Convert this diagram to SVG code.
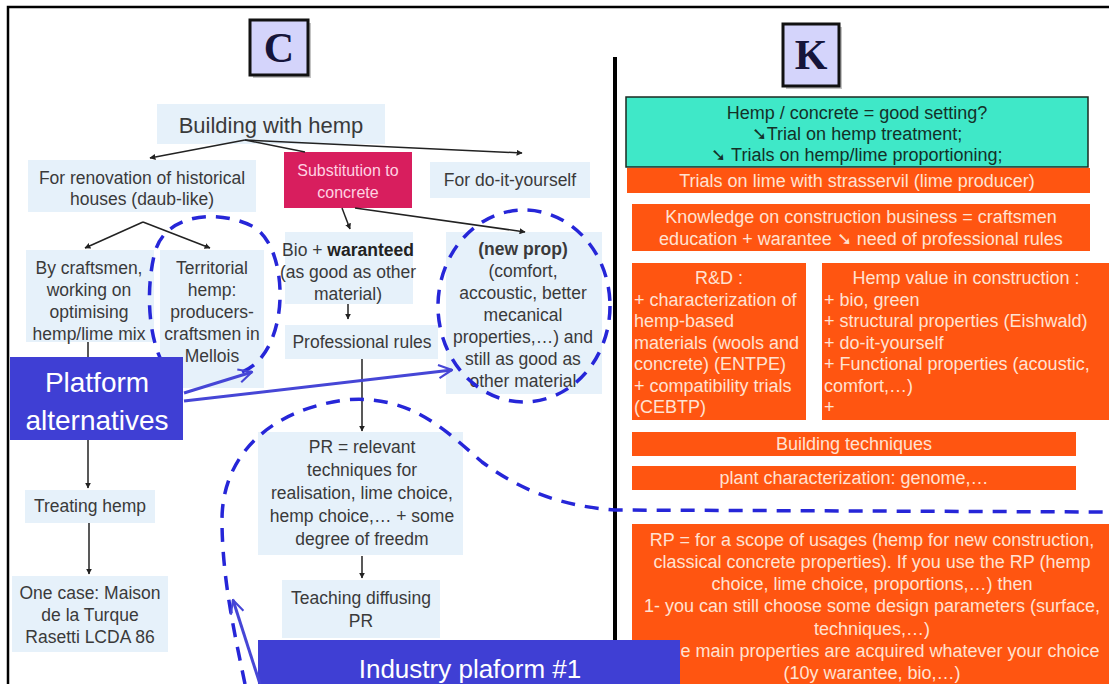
<svg xmlns="http://www.w3.org/2000/svg" width="1109" height="684" viewBox="0 0 1109 684">
<style>
.lb{fill:#e6f1fa}
.t{font-family:"Liberation Sans",Arial,sans-serif;font-size:17.5px;fill:#3a3a3a;text-anchor:middle}
.o{fill:#ff5511}
.ot{font-family:"Liberation Sans",Arial,sans-serif;font-size:18px;fill:#ffe2d2;text-anchor:middle}
.ol{text-anchor:start}
.bl{fill:#3f3fd4}
.bt{font-family:"Liberation Sans",Arial,sans-serif;font-size:28px;fill:#ffffff;text-anchor:middle}
.ar{stroke:#222;stroke-width:1.5;fill:none;marker-end:url(#ah)}
.ln{stroke:#222;stroke-width:1.5;fill:none}
.ds{stroke:#2626d8;stroke-width:3.5;fill:none;stroke-dasharray:14 10}
.ba{stroke:#4646d6;stroke-width:3;fill:none;marker-end:url(#oh)}
.lt{font-family:"Liberation Serif","Times New Roman",serif;font-weight:bold;font-size:42px;fill:#15153a;text-anchor:middle}
</style>
<defs>
<marker id="ah" viewBox="0 0 10 10" refX="9" refY="5" markerWidth="6" markerHeight="6" orient="auto" markerUnits="userSpaceOnUse">
<path d="M0,0 L10,5 L0,10 z" fill="#222"/>
</marker>
<marker id="oh" viewBox="0 0 12 12" refX="11" refY="6" markerWidth="16" markerHeight="16" orient="auto" markerUnits="userSpaceOnUse">
<path d="M1,1 L11,6 L1,11" fill="none" stroke="#4646d6" stroke-width="1.6"/>
</marker>
</defs>
<rect x="0" y="0" width="1109" height="684" fill="#ffffff"/>
<path d="M8,684 L8,7 L1109,7" fill="none" stroke="#000" stroke-width="2.5"/>

<g id="C-label">
<rect x="253" y="23" width="58" height="55" fill="#888" opacity="0.5"/>
<rect x="250" y="20" width="58" height="55" fill="#d4d4fb" stroke="#111" stroke-width="3"/>
<text class="lt" x="279" y="62">C</text>
</g>
<g id="K-label">
<rect x="786" y="27" width="56" height="62" fill="#888" opacity="0.5"/>
<rect x="783" y="24" width="56" height="62" fill="#d4d4fb" stroke="#111" stroke-width="3"/>
<text class="lt" x="811" y="69">K</text>
</g>
<line x1="615" y1="57" x2="615" y2="684" stroke="#000" stroke-width="4"/>

<g id="building">
<rect class="lb" x="157" y="104" width="228" height="40"/>
<text class="t" x="271" y="133" style="font-size:22px">Building with hemp</text>
</g>
<g id="renovation">
<rect class="lb" x="28" y="160" width="228" height="52"/>
<text class="t" x="142" y="184">For renovation of historical</text>
<text class="t" x="142" y="205">houses (daub-like)</text>
</g>
<g id="substitution">
<rect x="284" y="152" width="128" height="56" fill="#d81e5e"/>
<text class="t" x="348" y="176" style="fill:#ffd2e2;font-size:16px">Substitution to</text>
<text class="t" x="348" y="198" style="fill:#ffd2e2;font-size:16px">concrete</text>
</g>
<g id="diy">
<rect class="lb" x="430" y="162" width="160" height="36"/>
<text class="t" x="510" y="186">For do-it-yourself</text>
</g>
<g id="craftsmen">
<rect class="lb" x="26" y="250" width="128" height="92"/>
<text class="t" x="89" y="274">By craftsmen,</text>
<text class="t" x="89" y="296">working on</text>
<text class="t" x="89" y="318">optimising</text>
<text class="t" x="89" y="340">hemp/lime mix</text>
</g>
<g id="territorial">
<rect class="lb" x="160" y="250" width="104" height="138"/>
<text class="t" x="212" y="274">Territorial</text>
<text class="t" x="212" y="296">hemp:</text>
<text class="t" x="212" y="318">producers-</text>
<text class="t" x="212" y="340">craftsmen in</text>
<text class="t" x="212" y="362">Mellois</text>
</g>
<g id="bio">
<rect class="lb" x="285" y="232" width="128" height="72"/>
<text class="t" x="348" y="256">Bio + <tspan font-weight="bold" fill="#222">waranteed</tspan></text>
<text class="t" x="348" y="278">(as good as other</text>
<text class="t" x="348" y="300">material)</text>
</g>
<g id="professional">
<rect class="lb" x="285" y="325" width="153" height="34"/>
<text class="t" x="362" y="348">Professional rules</text>
</g>
<g id="newprop">
<rect class="lb" x="446" y="232" width="156" height="162"/>
<text class="t" x="523" y="255" font-weight="bold">(new prop)</text>
<text class="t" x="523" y="277">(comfort,</text>
<text class="t" x="523" y="299">accoustic, better</text>
<text class="t" x="523" y="321">mecanical</text>
<text class="t" x="523" y="343">properties,…) and</text>
<text class="t" x="523" y="365">still as good as</text>
<text class="t" x="523" y="387">other material</text>
</g>
<g id="treating">
<rect class="lb" x="25" y="490" width="130" height="33"/>
<text class="t" x="90" y="512">Treating hemp</text>
</g>
<g id="onecase">
<rect class="lb" x="12" y="576" width="156" height="76"/>
<text class="t" x="90" y="599">One case: Maison</text>
<text class="t" x="90" y="621">de la Turque</text>
<text class="t" x="90" y="643">Rasetti LCDA 86</text>
</g>
<g id="pr">
<rect class="lb" x="258" y="432" width="205" height="123"/>
<text class="t" x="362" y="453">PR = relevant</text>
<text class="t" x="362" y="476">techniques for</text>
<text class="t" x="362" y="499">realisation, lime choice,</text>
<text class="t" x="362" y="522">hemp choice,… + some</text>
<text class="t" x="362" y="545">degree of freedm</text>
</g>
<g id="teaching">
<rect class="lb" x="282" y="580" width="158" height="58"/>
<text class="t" x="361" y="604">Teaching diffusing</text>
<text class="t" x="361" y="627">PR</text>
</g>

<g id="connectors">
<path class="ar" d="M245,140 L150,158"/>
<path class="ar" d="M245,140 L522,153"/>
<path class="ln" d="M245,140 L305,152"/>
<path class="ar" d="M143,222 L85,248"/>
<path class="ar" d="M143,222 L210,248"/>
<path class="ar" d="M342,208 L350,229"/>
<path class="ar" d="M355,208 L525,232"/>
<path class="ar" d="M348,304 L348,319"/>
<path class="ar" d="M362,359 L362,431"/>
<path class="ar" d="M88,342 L88,488"/>
<path class="ar" d="M89,523 L89,574"/>
<path class="ar" d="M362,556 L362,578"/>
<path class="ds" d="M242,372 C292,352 290,245 252,226 C215,208 165,215 155,252 C145,290 148,345 168,372"/>
<ellipse class="ds" cx="524" cy="306" rx="86" ry="96"/>
<path class="ds" d="M245,684 C236,640 222,580 222,520 C222,455 270,410 345,400 C410,394 445,430 482,462 C520,490 560,506 615,510 L1105,512"/>
</g>

<g id="platform">
<rect class="bl" x="10" y="357" width="173" height="83"/>
<text class="bt" x="97" y="392">Platform</text>
<text class="bt" x="97" y="430">alternatives</text>
</g>

<g id="cyan">
<rect x="626" y="97" width="462" height="70" fill="#3fe8c8" stroke="#1a2a20" stroke-width="1.5"/>
<text class="t" x="857" y="119" style="fill:#143028;font-size:18px">Hemp / concrete = good setting?</text>
<text class="t" x="857" y="140" style="fill:#143028;font-size:18px">➘Trial on hemp treatment;</text>
<text class="t" x="857" y="161" style="fill:#143028;font-size:18px">➘ Trials on hemp/lime proportioning;</text>
</g>
<g id="trials-lime">
<rect class="o" x="627" y="168" width="463" height="25"/>
<text class="ot" x="857" y="187">Trials on lime with strasservil (lime producer)</text>
</g>
<g id="knowledge">
<rect class="o" x="632" y="204" width="458" height="47"/>
<text class="ot" x="861" y="223">Knowledge on construction business = craftsmen</text>
<text class="ot" x="861" y="245">education + warantee ➘ need of professional rules</text>
</g>
<g id="rnd">
<rect class="o" x="632" y="263" width="174" height="157"/>
<text class="ot" x="719" y="284">R&amp;D :</text>
<text class="ot ol" x="634" y="306">+ characterization of</text>
<text class="ot ol" x="634" y="327">hemp-based</text>
<text class="ot ol" x="634" y="349">materials (wools and</text>
<text class="ot ol" x="634" y="370">concrete) (ENTPE)</text>
<text class="ot ol" x="634" y="392">+ compatibility trials</text>
<text class="ot ol" x="634" y="413">(CEBTP)</text>
</g>
<g id="hemp-value">
<rect class="o" x="822" y="263" width="287" height="157"/>
<text class="ot" x="966" y="284">Hemp value in construction :</text>
<text class="ot ol" x="824" y="306">+ bio, green</text>
<text class="ot ol" x="824" y="327">+ structural properties (Eishwald)</text>
<text class="ot ol" x="824" y="349">+ do-it-yourself</text>
<text class="ot ol" x="824" y="370">+ Functional properties (acoustic,</text>
<text class="ot ol" x="824" y="392">comfort,…)</text>
<text class="ot ol" x="824" y="413">+</text>
</g>
<g id="building-tech">
<rect class="o" x="632" y="432" width="444" height="24"/>
<text class="ot" x="854" y="450">Building techniques</text>
</g>
<g id="plant">
<rect class="o" x="632" y="466" width="444" height="24"/>
<text class="ot" x="854" y="484">plant characterization: genome,…</text>
</g>
<g id="rp">
<rect class="o" x="632" y="524" width="477" height="160"/>
<text class="ot" x="872" y="546">RP = for a scope of usages (hemp for new construction,</text>
<text class="ot" x="872" y="568">classical concrete properties). If you use the RP (hemp</text>
<text class="ot" x="872" y="590">choice, lime choice, proportions,…) then</text>
<text class="ot" x="872" y="612">1- you can still choose some design parameters (surface,</text>
<text class="ot" x="872" y="635">techniques,…)</text>
<text class="ot" x="872" y="657">2- the main properties are acquired whatever your choice</text>
<text class="ot" x="872" y="679">(10y warantee, bio,…)</text>
</g>

<g id="industry">
<rect class="bl" x="258" y="640" width="422" height="44"/>
<text class="bt" x="470" y="678" style="font-size:26px">Industry plaform #1</text>
</g>
<g id="blue-arrows">
<path class="ba" d="M184,393 L252,372"/>
<path class="ba" d="M184,401 L452,370"/>
<path class="ba" d="M260,684 L233,600"/>
</g>
</svg>
